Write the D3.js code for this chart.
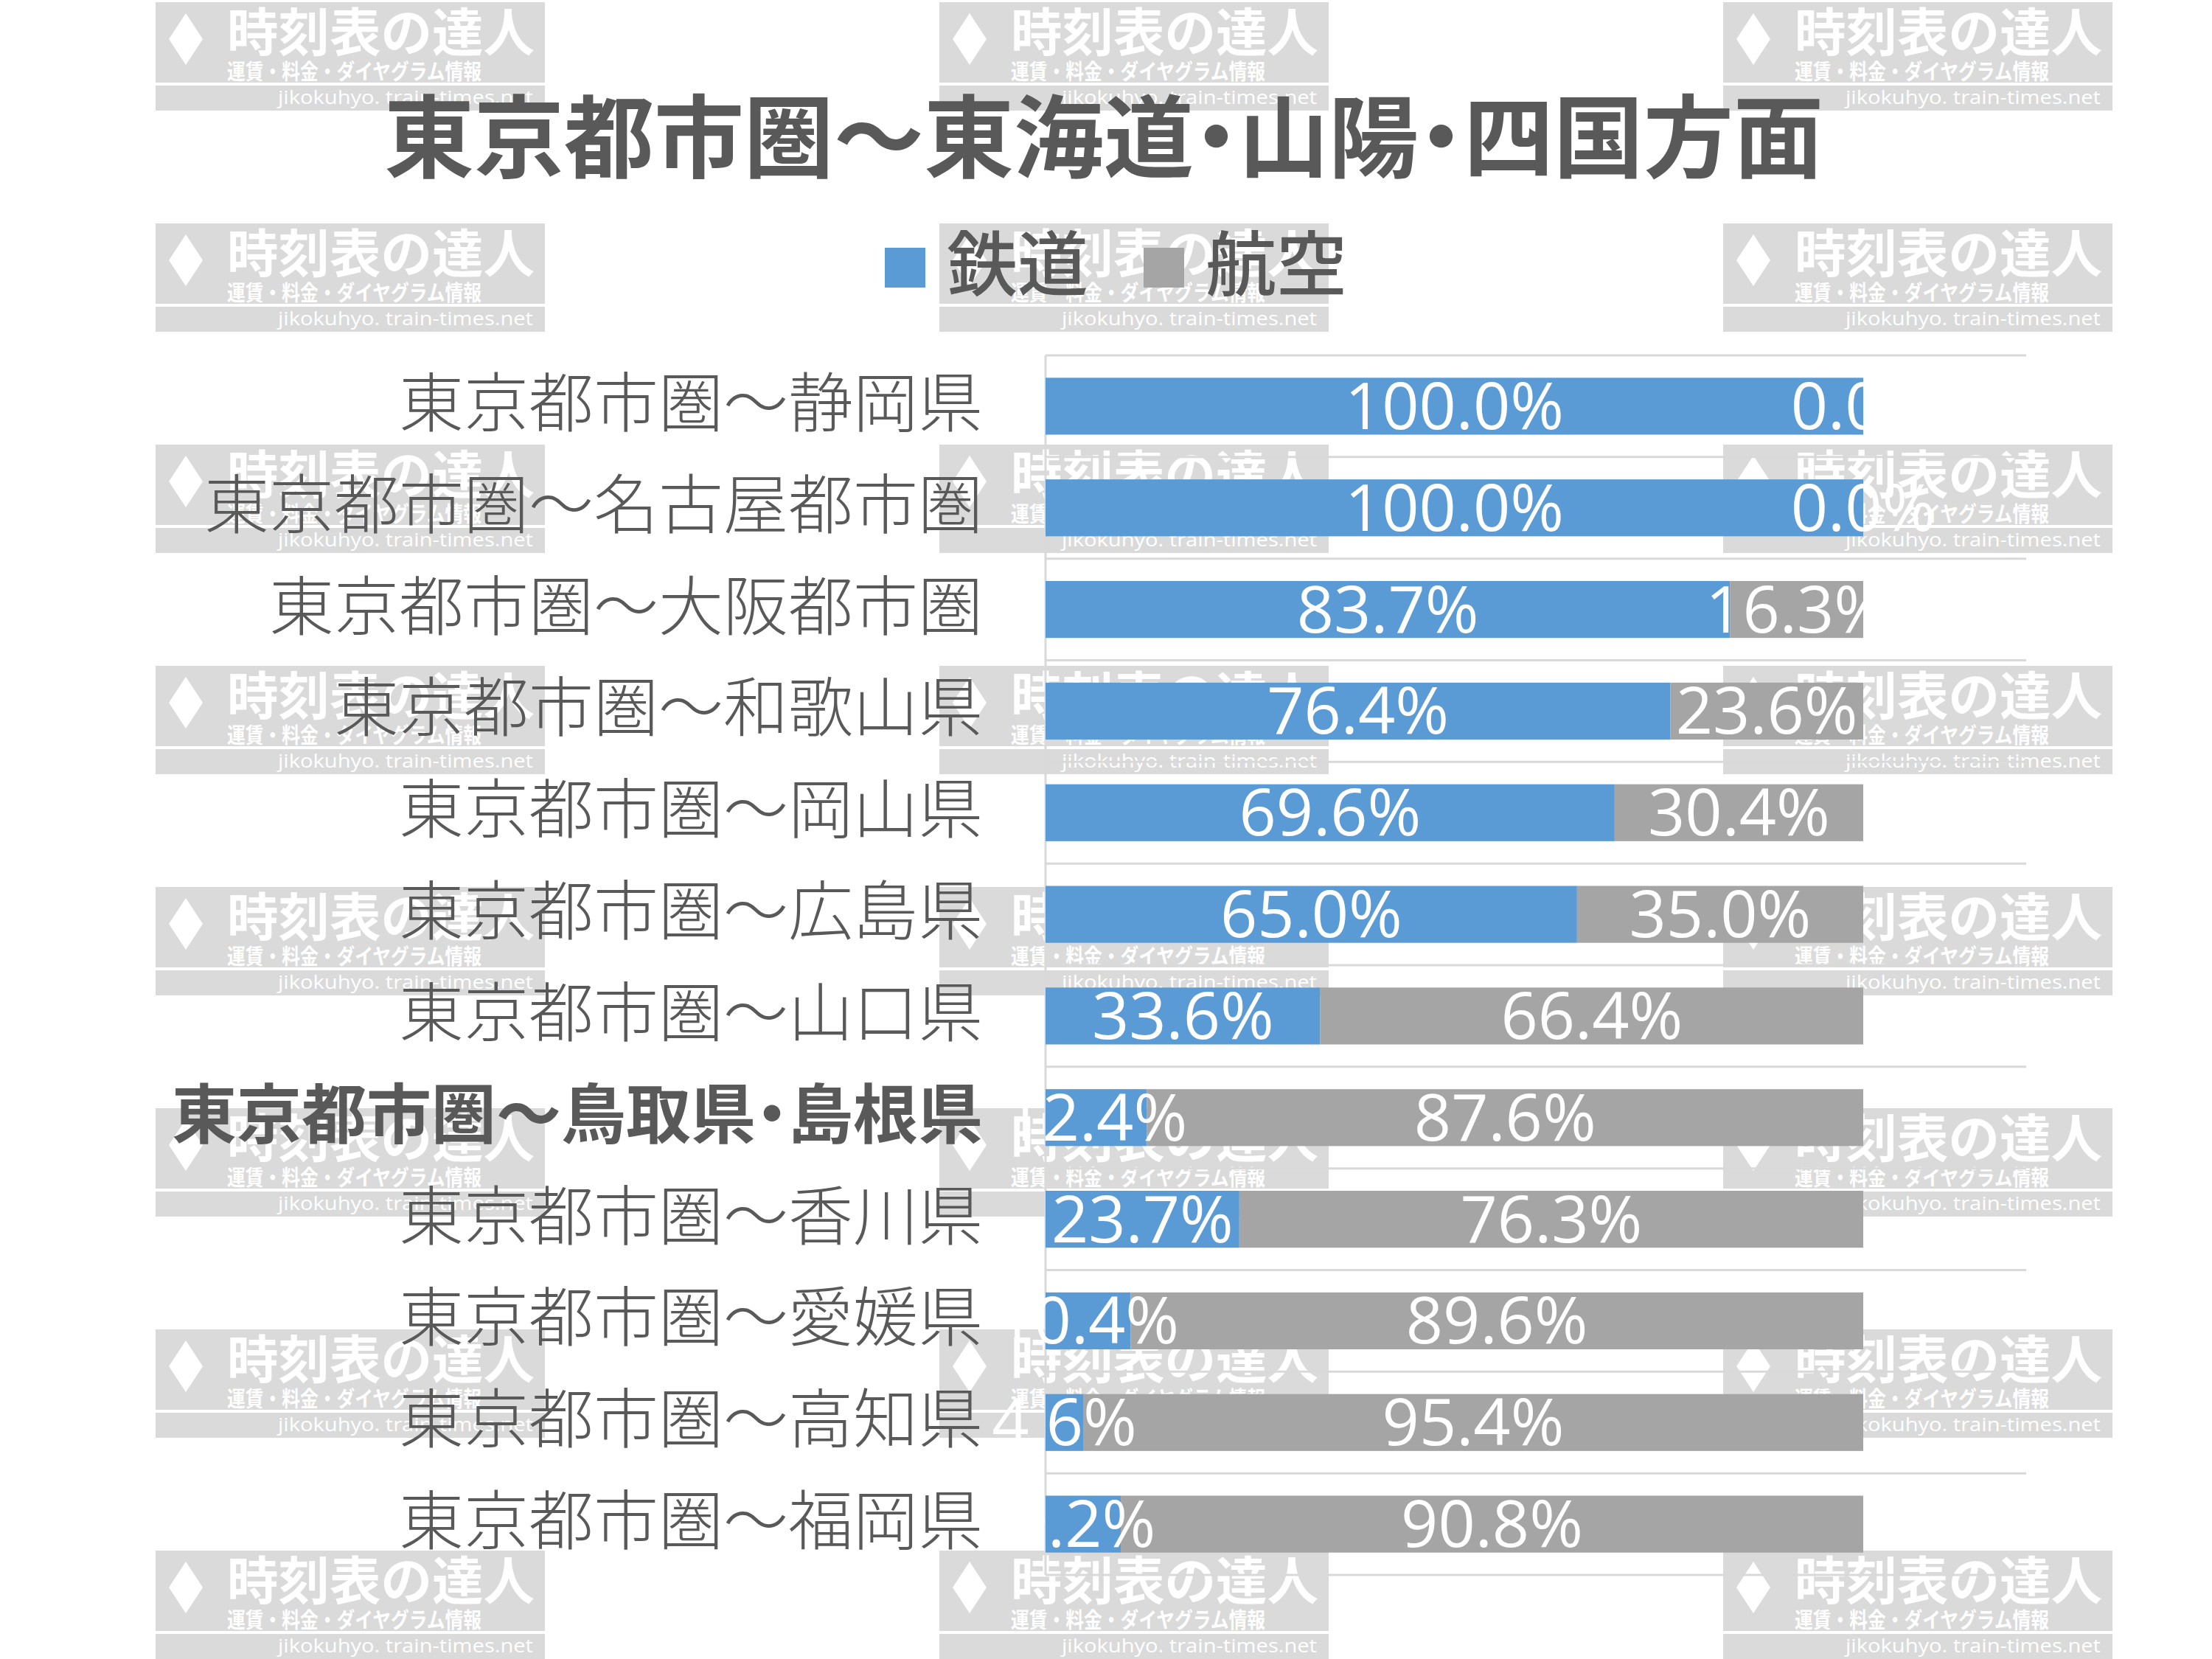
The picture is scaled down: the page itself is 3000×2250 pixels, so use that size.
<!DOCTYPE html>
<html>
<head>
<meta charset="utf-8">
<script src="https://cdn.jsdelivr.net/npm/d3@7"></script>
<style>
  html, body { margin: 0; padding: 0; background: #ffffff; }
  svg { display: block; }
</style>
</head>
<body>
<svg id="chart" width="3000" height="2250"></svg>
<script>
// ---------------- data ----------------
const title = "東京都市圏～東海道・山陽・四国方面";
const seriesNames = ["鉄道", "航空"];
const categories = [
  "東京都市圏～静岡県",
  "東京都市圏～名古屋都市圏",
  "東京都市圏～大阪都市圏",
  "東京都市圏～和歌山県",
  "東京都市圏～岡山県",
  "東京都市圏～広島県",
  "東京都市圏～山口県",
  "東京都市圏～鳥取県・島根県",
  "東京都市圏～香川県",
  "東京都市圏～愛媛県",
  "東京都市圏～高知県",
  "東京都市圏～福岡県"
];
const railShare = [100.0, 100.0, 83.7, 76.4, 69.6, 65.0, 33.6, 12.4, 23.7, 10.4, 4.6, 9.2];
const airShare  = [0.0, 0.0, 16.3, 23.6, 30.4, 35.0, 66.4, 87.6, 76.3, 89.6, 95.4, 90.8];
const highlightCategory = "東京都市圏～鳥取県・島根県";
const watermarkTitle = "時刻表の達人";
const watermarkSub = "運賃・料金・ダイヤグラム情報";
const watermarkUrl = "jikokuhyo. train-times.net";

// ---------------- styles ----------------
const colors = ["#5b9bd5", "#a5a5a5"];
const textColor = "#595959";
const gridColor = "#d9d9d9";
const cjk = "'Noto Sans CJK JP', 'Noto Sans CJK SC', sans-serif";
const latin = "'Open Sans', 'Noto Sans', sans-serif";

const svg = d3.select("#chart");

// ---------------- watermark (background) ----------------
const wm = svg.append("g").attr("class", "watermark");
const wmCols = [211, 1274, 2337];
const wmRows = d3.range(8).map(k => 3 + 300 * k);
wmRows.forEach(ty => wmCols.forEach(tx => {
  const g = wm.append("g").attr("transform", `translate(${tx},${ty})`);
  g.append("rect").attr("width", 528).attr("height", 109).attr("fill", "#dadada");
  g.append("rect").attr("y", 113).attr("width", 528).attr("height", 34).attr("fill", "#dadada");
  g.append("polygon").attr("points", "41,15 64,50 41,85 18,50").attr("fill", "#ffffff");
  g.append("text").attr("x", 97).attr("y", 67)
    .attr("font-family", cjk).attr("font-weight", 700).attr("font-size", 70)
    .attr("textLength", 417).attr("lengthAdjust", "spacingAndGlyphs")
    .attr("fill", "#ffffff").text(watermarkTitle);
  g.append("text").attr("x", 97).attr("y", 105)
    .attr("font-family", cjk).attr("font-weight", 700).attr("font-size", 29)
    .attr("textLength", 345).attr("lengthAdjust", "spacingAndGlyphs")
    .attr("fill", "#ffffff").text(watermarkSub);
  g.append("text").attr("x", 166).attr("y", 138)
    .attr("font-family", latin).attr("font-size", 26)
    .attr("textLength", 346).attr("lengthAdjust", "spacingAndGlyphs")
    .attr("fill", "#ffffff").text(watermarkUrl);
}));

// ---------------- scales ----------------
const x = d3.scaleLinear().domain([0, 100]).range([1418, 2527]);
const y = d3.scaleBand().domain(categories).range([482, 2136])
  .paddingInner(0.44).paddingOuter(0.22);
const gap = y.step() - y.bandwidth();

// ---------------- title ----------------
svg.append("text")
  .attr("x", 1497).attr("y", 231)
  .attr("text-anchor", "middle")
  .attr("font-family", cjk).attr("font-weight", 700).attr("font-size", 122)
  .style("font-feature-settings", "'palt'")
  .attr("fill", textColor)
  .text(title);

// ---------------- legend ----------------
const legendItems = [
  { name: seriesNames[0], color: colors[0], sx: 1200, tx: 1284 },
  { name: seriesNames[1], color: colors[1], sx: 1551, tx: 1635 }
];
const lg = svg.append("g").attr("class", "legend");
legendItems.forEach(it => {
  lg.append("rect").attr("x", it.sx).attr("y", 336).attr("width", 55).attr("height", 54).attr("fill", it.color);
  lg.append("text").attr("x", it.tx).attr("y", 393)
    .attr("font-family", cjk).attr("font-weight", 500).attr("font-size", 96)
    .attr("fill", textColor).text(it.name);
});

// ---------------- gridlines & axis ----------------
const boundaries = categories.map(c => y(c) - gap / 2).concat([y(categories[categories.length - 1]) + y.bandwidth() + gap / 2]);
svg.append("g").selectAll("line").data(boundaries).join("line")
  .attr("x1", x(0)).attr("x2", 2748)
  .attr("y1", d => d).attr("y2", d => d)
  .attr("stroke", gridColor).attr("stroke-width", 3);
svg.append("line")
  .attr("x1", x(0)).attr("x2", x(0))
  .attr("y1", boundaries[0]).attr("y2", boundaries[boundaries.length - 1])
  .attr("stroke", gridColor).attr("stroke-width", 3);

// ---------------- bars ----------------
const rows = categories.map((c, i) => ({ cat: c, vals: [railShare[i], airShare[i]] }));
const stacked = [];
rows.forEach(r => {
  let acc = 0;
  r.vals.forEach((v, s) => {
    stacked.push({ cat: r.cat, s, v, x0: acc, x1: acc + v });
    acc += v;
  });
});

svg.append("g").selectAll("rect").data(stacked).join("rect")
  .attr("x", d => x(d.x0))
  .attr("y", d => y(d.cat))
  .attr("width", d => x(d.x1) - x(d.x0))
  .attr("height", y.bandwidth())
  .attr("fill", d => colors[d.s]);

// ---------------- data labels ----------------
const fmt = d3.format(".1f");
svg.append("g").selectAll("text").data(stacked).join("text")
  .attr("x", d => (x(d.x0) + x(d.x1)) / 2)
  .attr("y", d => y(d.cat) + y.bandwidth() / 2 + 31)
  .attr("text-anchor", "middle")
  .attr("font-family", latin).attr("font-size", 88)
  .attr("fill", "#ffffff")
  .text(d => fmt(d.v) + "%");

// ---------------- category labels ----------------
svg.append("g").selectAll("text").data(categories).join("text")
  .attr("x", 1333)
  .attr("y", d => y(d) + y.bandwidth() / 2 + 27)
  .attr("text-anchor", "end")
  .attr("font-family", cjk)
  .attr("font-weight", d => d === highlightCategory ? 700 : 300)
  .attr("font-size", 88)
  .style("font-feature-settings", d => d === highlightCategory ? "'palt'" : "normal")
  .attr("fill", textColor)
  .text(d => d);
</script>
</body>
</html>
